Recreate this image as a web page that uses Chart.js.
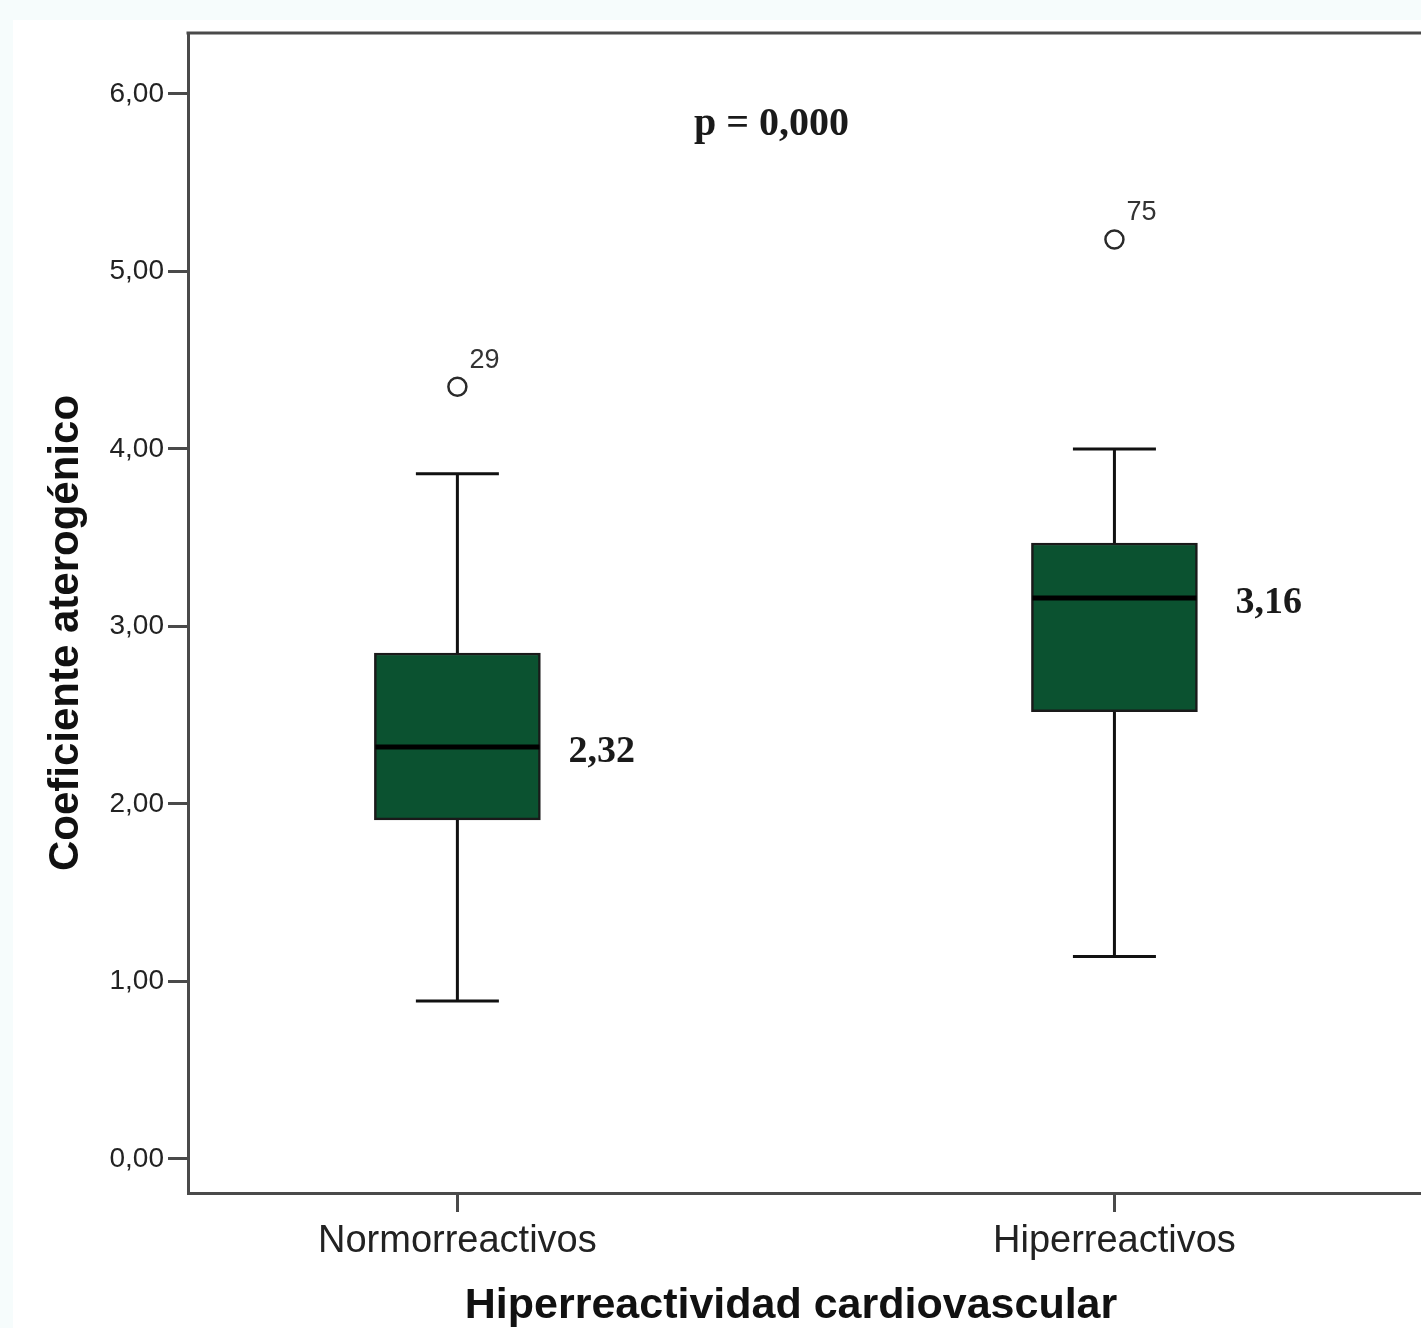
<!DOCTYPE html>
<html>
<head>
<meta charset="utf-8">
<script src="https://cdn.jsdelivr.net/npm/chart.js@4.4.1/dist/chart.umd.min.js"></script>
<style>
  html, body { margin: 0; padding: 0; overflow: hidden; background: #f6fcfc; }
  canvas { display: block; }
</style>
</head>
<body>
<canvas id="boxChart" width="1440" height="1328"></canvas>
<script>
// Estadísticos (diagrama de cajas)
const categories = ['Normorreactivos', 'Hiperreactivos'];
const whiskerLow = [0.89, 1.14];
const q1 = [1.91, 2.52];
const medians = [2.32, 3.16];
const q3 = [2.85, 3.47];
const whiskerHigh = [3.86, 4.00];
const outlierValues = [4.35, 5.18];
const outlierIds = ['29', '75'];
const yTicks = [0, 1, 2, 3, 4, 5, 6];
const pValueText = 'p = 0,000';
const yTitle = 'Coeficiente aterogénico';
const xTitle = 'Hiperreactividad cardiovascular';

const BOX_WIDTH = 166;
const AXIS_COLOR = '#4a4a4a';
const MEDIAN_LABEL_GAP = [28, 38];

const fmt = v => v.toFixed(2).replace('.', ',');

// Plugin para bigotes, medianas, etiquetas y títulos
const boxExtras = {
    id: 'boxExtras',
    beforeDraw(chart) {
        const ctx = chart.ctx;
        ctx.save();
        ctx.fillStyle = '#f6fcfc';
        ctx.fillRect(0, 0, chart.width, chart.height);
        ctx.fillStyle = '#ffffff';
        ctx.fillRect(13, 20, chart.width, chart.height);
        ctx.restore();
    },
    beforeDatasetsDraw(chart) {
        const ctx = chart.ctx;
        const xs = chart.scales.x, ys = chart.scales.y;
        ctx.save();
        ctx.strokeStyle = '#111';
        ctx.lineWidth = 3;
        categories.forEach((c, i) => {
            const cx = xs.getPixelForValue(i);
            const half = BOX_WIDTH / 4;
            ctx.beginPath();
            ctx.moveTo(cx, ys.getPixelForValue(whiskerLow[i]));
            ctx.lineTo(cx, ys.getPixelForValue(q1[i]));
            ctx.moveTo(cx, ys.getPixelForValue(q3[i]));
            ctx.lineTo(cx, ys.getPixelForValue(whiskerHigh[i]));
            ctx.moveTo(cx - half, ys.getPixelForValue(whiskerLow[i]));
            ctx.lineTo(cx + half, ys.getPixelForValue(whiskerLow[i]));
            ctx.moveTo(cx - half, ys.getPixelForValue(whiskerHigh[i]));
            ctx.lineTo(cx + half, ys.getPixelForValue(whiskerHigh[i]));
            ctx.stroke();
        });
        ctx.restore();
    },
    afterDatasetsDraw(chart) {
        const ctx = chart.ctx;
        const xs = chart.scales.x, ys = chart.scales.y;
        const area = chart.chartArea;
        ctx.save();
        // línea superior del marco
        ctx.strokeStyle = AXIS_COLOR;
        ctx.lineWidth = 3;
        ctx.beginPath();
        ctx.moveTo(area.left - 1.5, area.top);
        ctx.lineTo(area.right, area.top);
        ctx.stroke();

        categories.forEach((c, i) => {
            const cx = xs.getPixelForValue(i);
            const my = ys.getPixelForValue(medians[i]);
            // mediana
            ctx.strokeStyle = '#000';
            ctx.lineWidth = 5;
            ctx.beginPath();
            ctx.moveTo(cx - BOX_WIDTH / 2 + 1, my);
            ctx.lineTo(cx + BOX_WIDTH / 2 - 1, my);
            ctx.stroke();
            // valor de la mediana
            ctx.fillStyle = '#1a1a1a';
            ctx.font = 'bold 38px "Liberation Serif"';
            ctx.textAlign = 'left';
            ctx.textBaseline = 'middle';
            ctx.fillText(fmt(medians[i]), cx + BOX_WIDTH / 2 + MEDIAN_LABEL_GAP[i], my + 5);
            // número del caso atípico
            ctx.fillStyle = '#333';
            ctx.font = '27px "Liberation Sans"';
            ctx.textBaseline = 'alphabetic';
            ctx.fillText(outlierIds[i], cx + 12, ys.getPixelForValue(outlierValues[i]) - 19);
        });

        // valor p
        ctx.fillStyle = '#1a1a1a';
        ctx.font = 'bold 40px "Liberation Serif"';
        ctx.textAlign = 'center';
        ctx.textBaseline = 'middle';
        ctx.fillText(pValueText, xs.getPixelForValue(0.478), ys.getPixelForValue(5.83) + 1);
        ctx.restore();
    },
    afterDraw(chart) {
        const ctx = chart.ctx;
        ctx.save();
        ctx.fillStyle = '#111';
        ctx.textAlign = 'center';
        ctx.textBaseline = 'middle';
        ctx.font = 'bold 43px "Liberation Sans"';
        ctx.fillText(xTitle, 791, 1306);
        ctx.translate(66, 633);
        ctx.rotate(-Math.PI / 2);
        ctx.font = 'bold 42px "Liberation Sans"';
        ctx.fillText(yTitle, 0, 0);
        ctx.restore();
    }
};

new Chart(document.getElementById('boxChart'), {
    type: 'bar',
    data: {
        datasets: [{
            label: 'Caja',
            data: categories.map((c, i) => ({ x: i, y: [q1[i], q3[i]] })),
            backgroundColor: '#0b5230',
            borderColor: '#1a1a1a',
            borderWidth: 2.5,
            borderSkipped: false,
            barThickness: BOX_WIDTH
        }, {
            type: 'scatter',
            label: 'Atípicos',
            data: categories.map((c, i) => ({ x: i, y: outlierValues[i] })),
            pointRadius: 9,
            pointBackgroundColor: 'rgba(255,255,255,0)',
            pointBorderColor: '#2a2a2a',
            pointBorderWidth: 2.5
        }]
    },
    options: {
        responsive: false,
        devicePixelRatio: 1,
        animation: false,
        layout: { padding: { left: 10, top: 33, right: 0, bottom: 0 } },
        plugins: {
            legend: { display: false },
            tooltip: { enabled: false }
        },
        scales: {
            x: {
                type: 'linear',
                offset: false,
                min: -0.41,
                max: 1.478,
                afterBuildTicks: s => { s.ticks = categories.map((c, i) => ({ value: i })); },
                afterFit: s => { s.height = 135; },
                ticks: {
                    callback: v => categories[v],
                    font: { family: 'Liberation Sans', size: 38 },
                    color: '#222',
                    padding: 7,
                    maxRotation: 0,
                    autoSkip: false
                },
                grid: { offset: false, drawOnChartArea: false, drawTicks: true, tickLength: 19, tickWidth: 3, tickColor: AXIS_COLOR },
                border: { display: true, width: 3, color: AXIS_COLOR }
            },
            y: {
                min: -0.192,
                max: 6.343,
                afterBuildTicks: s => { s.ticks = yTicks.map(v => ({ value: v })); },
                afterFit: s => { s.width = 178; },
                ticks: {
                    callback: v => fmt(v),
                    font: { family: 'Liberation Sans', size: 28 },
                    color: '#222',
                    padding: 4
                },
                grid: { drawOnChartArea: false, drawTicks: true, tickLength: 20, tickWidth: 3, tickColor: AXIS_COLOR },
                border: { display: true, width: 3, color: AXIS_COLOR }
            }
        }
    },
    plugins: [boxExtras]
});
</script>
</body>
</html>
